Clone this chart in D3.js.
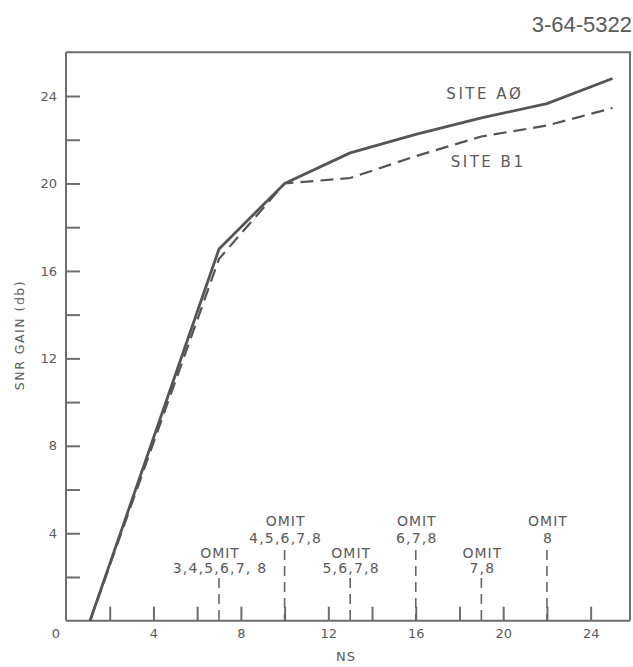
<!DOCTYPE html>
<html>
<head>
<meta charset="utf-8">
<script src="https://cdn.jsdelivr.net/npm/d3@7"></script>
<style>
  html, body { margin: 0; padding: 0; background: #ffffff; }
  svg { display: block; }
  text { font-family: "DejaVu Sans", sans-serif; fill: #5a5a5a; }
</style>
</head>
<body>
<svg id="chart" width="633" height="667"></svg>
<script>
// ---- data ----
const ns = [1.1, 7, 10, 13, 16, 19, 22, 25];
const siteA0 = [0, 17.0, 20.0, 21.4, 22.25, 23.0, 23.65, 24.8];
const siteB1 = [0, 16.55, 20.0, 20.25, 21.25, 22.15, 22.65, 23.45];
const seriesNames = ["SITE A\u00D8", "SITE B1"];
const omitNS = [7, 10, 13, 16, 19, 22];
const omitLabels = ["3,4,5,6,7, 8", "4,5,6,7,8", "5,6,7,8", "6,7,8", "7,8", "8"];
const xTicks = [2, 4, 6, 8, 10, 12, 14, 16, 18, 20, 22, 24];
const yTicks = [2, 4, 6, 8, 10, 12, 14, 16, 18, 20, 22, 24];
const xLabel = "NS";
const yLabel = "SNR GAIN (db)";
const figId = "3-64-5322";

// ---- layout ----
const svg = d3.select("#chart");
const mL = 66, mR = 630, mT = 52.3, mB = 620.7;
const x = d3.scaleLinear().domain([0, 25.8]).range([mL, mR]);
const y = d3.scaleLinear().domain([0, 26]).range([mB, mT]);
const axisColor = "#6e6e6e";
const lineColor = "#555555";

// frame (top & right)
svg.append("path")
  .attr("d", `M${mL},${mT}H${mR}V${mB}`)
  .attr("fill", "none").attr("stroke", axisColor).attr("stroke-width", 2);

// x axis
const gx = svg.append("g").attr("transform", `translate(0,${mB})`)
  .call(d3.axisBottom(x).tickValues(xTicks).tickSizeInner(-14).tickSizeOuter(0).tickPadding(8)
    .tickFormat(d => d % 4 === 0 ? d : ""));
gx.select(".domain").attr("stroke", axisColor).attr("stroke-width", 2)
  .attr("d", `M${mL},0H${mR}`);
gx.selectAll(".tick line").attr("stroke", axisColor).attr("stroke-width", 2);
gx.selectAll(".tick text").style("font-size", "13px").attr("fill", "#5a5a5a")
  .style("font-family", "DejaVu Sans, sans-serif");

// y axis
const gy = svg.append("g").attr("transform", `translate(${mL},0)`)
  .call(d3.axisLeft(y).tickValues(yTicks).tickSizeInner(-14).tickSizeOuter(0).tickPadding(9)
    .tickFormat(d => d % 4 === 0 ? d : ""));
gy.select(".domain").attr("stroke", axisColor).attr("stroke-width", 2)
  .attr("d", `M0,${mT}V${mB}`);
gy.selectAll(".tick line").attr("stroke", axisColor).attr("stroke-width", 2);
gy.selectAll(".tick text").style("font-size", "13px").attr("fill", "#5a5a5a")
  .style("font-family", "DejaVu Sans, sans-serif");

// origin label
svg.append("text").attr("x", mL - 10).attr("y", mB + 17)
  .attr("text-anchor", "middle").style("font-size", "13px").text("0");

// axis titles
svg.append("text").attr("x", (mL + mR) / 2 - 2).attr("y", 661)
  .attr("text-anchor", "middle").style("font-size", "13px").style("letter-spacing", "1px")
  .text(xLabel);
svg.append("text").attr("transform", "translate(24,335) rotate(-90)")
  .attr("text-anchor", "middle").style("font-size", "12.5px").style("letter-spacing", "1.5px")
  .text(yLabel);

// figure id
svg.append("text").attr("x", 632).attr("y", 32).attr("text-anchor", "end")
  .style("font-size", "22px").style("font-family", "Liberation Sans, sans-serif")
  .attr("fill", "#666").text(figId);

// series lines
const line = d3.line().x(d => x(d[0])).y(d => y(d[1]));
svg.append("path").datum(ns.map((n, i) => [n, siteB1[i]]))
  .attr("d", line).attr("fill", "none").attr("stroke", lineColor)
  .attr("stroke-width", 2.2).attr("stroke-dasharray", "13,7");
svg.append("path").datum(ns.map((n, i) => [n, siteA0[i]]))
  .attr("d", line).attr("fill", "none").attr("stroke", lineColor)
  .attr("stroke-width", 2.8).attr("stroke-linejoin", "round");

// series labels
svg.append("text").attr("x", x(17.4)).attr("y", y(23.87))
  .style("font-size", "15px").style("letter-spacing", "2.5px").text(seriesNames[0]);
svg.append("text").attr("x", x(17.6)).attr("y", y(20.75))
  .style("font-size", "15px").style("letter-spacing", "2.5px").text(seriesNames[1]);

// omit annotations
omitNS.forEach((n, i) => {
  const high = i % 2 === 1;
  const lineTop = high ? 550 : 578;
  const omitY = high ? 526 : 557.5;
  const numY = high ? 542.5 : 573;
  svg.append("line").attr("x1", x(n)).attr("x2", x(n))
    .attr("y1", lineTop).attr("y2", mB)
    .attr("stroke", "#666").attr("stroke-width", 1.6).attr("stroke-dasharray", "10,6");
  svg.append("text").attr("x", x(n) + 1).attr("y", omitY).attr("text-anchor", "middle")
    .style("font-size", "14px").style("letter-spacing", "1px").text("OMIT");
  svg.append("text").attr("x", x(n) + 1).attr("y", numY).attr("text-anchor", "middle")
    .style("font-size", "14px").style("letter-spacing", "1.2px").text(omitLabels[i]);
});
</script>
</body>
</html>
